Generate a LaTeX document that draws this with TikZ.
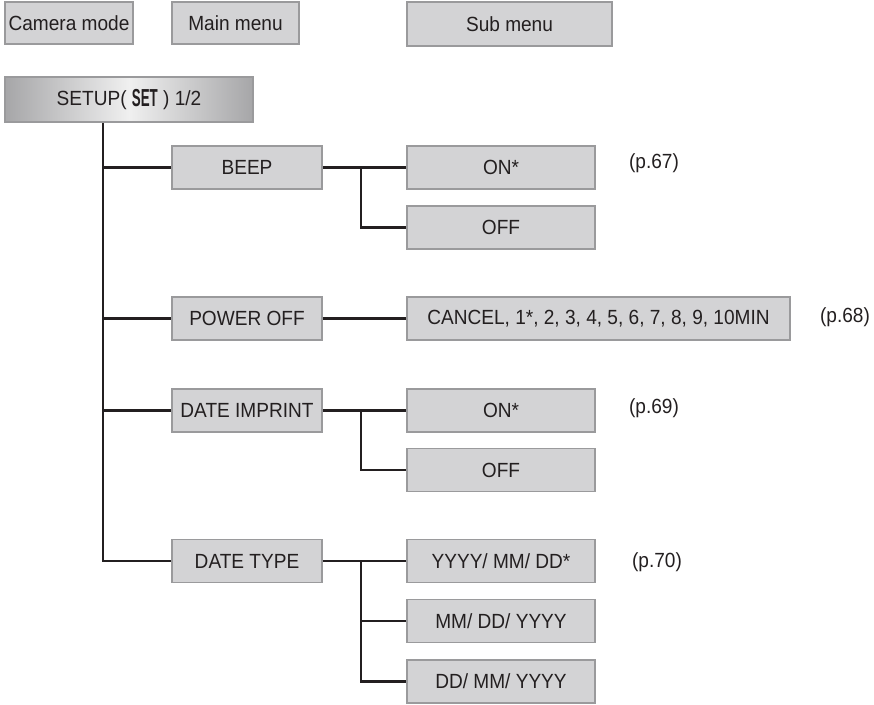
\documentclass[tikz,border=0pt]{standalone}
\usepackage{fontspec}
\usepackage{graphicx}
\setmainfont{Liberation Sans}[FakeStretch=0.93]
\definecolor{boxfill}{HTML}{D3D3D5}
\definecolor{boxline}{HTML}{9A9A9C}
\definecolor{ink}{HTML}{231F20}
\definecolor{shadeedge}{HTML}{A6A6A8}
\tikzset{
  menubox/.style={draw=boxline, line width=1.8pt, fill=boxfill, text=ink,
    inner sep=0pt, font=\fontsize{20.5}{24}\selectfont},
  headbox/.style={draw=boxline, line width=1.8pt, left color=shadeedge, right color=shadeedge,
    middle color=white!94!black, text=ink, inner sep=0pt, font=\fontsize{20.5}{24}\selectfont},
  pagelabel/.style={text=ink, inner sep=0pt, font=\fontsize{20.5}{24}\selectfont},
  link/.style={draw=ink, line width=2.2pt}
}
\newcommand{\seticon}{\raisebox{-0.08em}{\scalebox{0.7}[1.2]{\bfseries SET}}}
\begin{document}
\begin{tikzpicture}[x=1pt,y=-1pt]
\useasboundingbox (0,0) rectangle (874,704);
% legend
\node[menubox, minimum width=128, minimum height=42] (cam) at (69,23) {Camera mode};
\node[menubox, minimum width=127, minimum height=42] (mainm) at (235.5,23) {Main menu};
\node[menubox, minimum width=205, minimum height=44] (subm) at (509.5,24) {Sub menu};
% head
\node[headbox, minimum width=248, minimum height=45] (setup) at (129,99.5) {SETUP( \seticon\ ) 1/2};
% main menu items
\node[menubox, minimum width=150, minimum height=43] (beep) at (247,167.5) {BEEP};
\node[menubox, minimum width=150, minimum height=43] (poff) at (247,318.5) {POWER OFF};
\node[menubox, minimum width=150, minimum height=43] (dimp) at (247,410.5) {DATE IMPRINT};
\node[menubox, minimum width=150, minimum height=43] (dtype) at (247,561) {DATE TYPE};
% sub menu items
\node[menubox, minimum width=188, minimum height=43] (beepon) at (501,167.5) {ON*};
\node[menubox, minimum width=188, minimum height=43] (beepoff) at (501,227.5) {OFF};
\node[menubox, minimum width=383, minimum height=43] (cancel) at (598.5,318.5) {CANCEL, 1*, 2, 3, 4, 5, 6, 7, 8, 9, 10MIN};
\node[menubox, minimum width=188, minimum height=43] (dimpon) at (501,410.5) {ON*};
\node[menubox, minimum width=188, minimum height=43] (dimpoff) at (501,470) {OFF};
\node[menubox, minimum width=188, minimum height=43] (ymd) at (501,561) {YYYY/ MM/ DD*};
\node[menubox, minimum width=188, minimum height=43] (mdy) at (501,621) {MM/ DD/ YYYY};
\node[menubox, minimum width=188, minimum height=43] (dmy) at (501,681.5) {DD/ MM/ YYYY};
% page labels
\node[pagelabel] (p67) at (654,163) {(p.67)};
\node[pagelabel] (p68) at (845,317) {(p.68)};
\node[pagelabel] (p69) at (654,408) {(p.69)};
\node[pagelabel] (p70) at (657,562) {(p.70)};
% connectors
\coordinate (trunk) at (103,122.8);
\coordinate (sx) at (361,0);
\draw[link] (trunk) |- (dtype.west);
\draw[link] (trunk |- beep.west) -- (beep.west);
\draw[link] (trunk |- poff.west) -- (poff.west);
\draw[link] (trunk |- dimp.west) -- (dimp.west);
\draw[link] (beep.east) -- (beepon.west);
\draw[link] (sx |- beep.east) |- (beepoff.west);
\draw[link] (poff.east) -- (cancel.west);
\draw[link] (dimp.east) -- (dimpon.west);
\draw[link] (sx |- dimp.east) |- (dimpoff.west);
\draw[link] (dtype.east) -- (ymd.west);
\draw[link] (sx |- dtype.east) |- (dmy.west);
\draw[link] (sx |- mdy.west) -- (mdy.west);
\end{tikzpicture}
\end{document}
